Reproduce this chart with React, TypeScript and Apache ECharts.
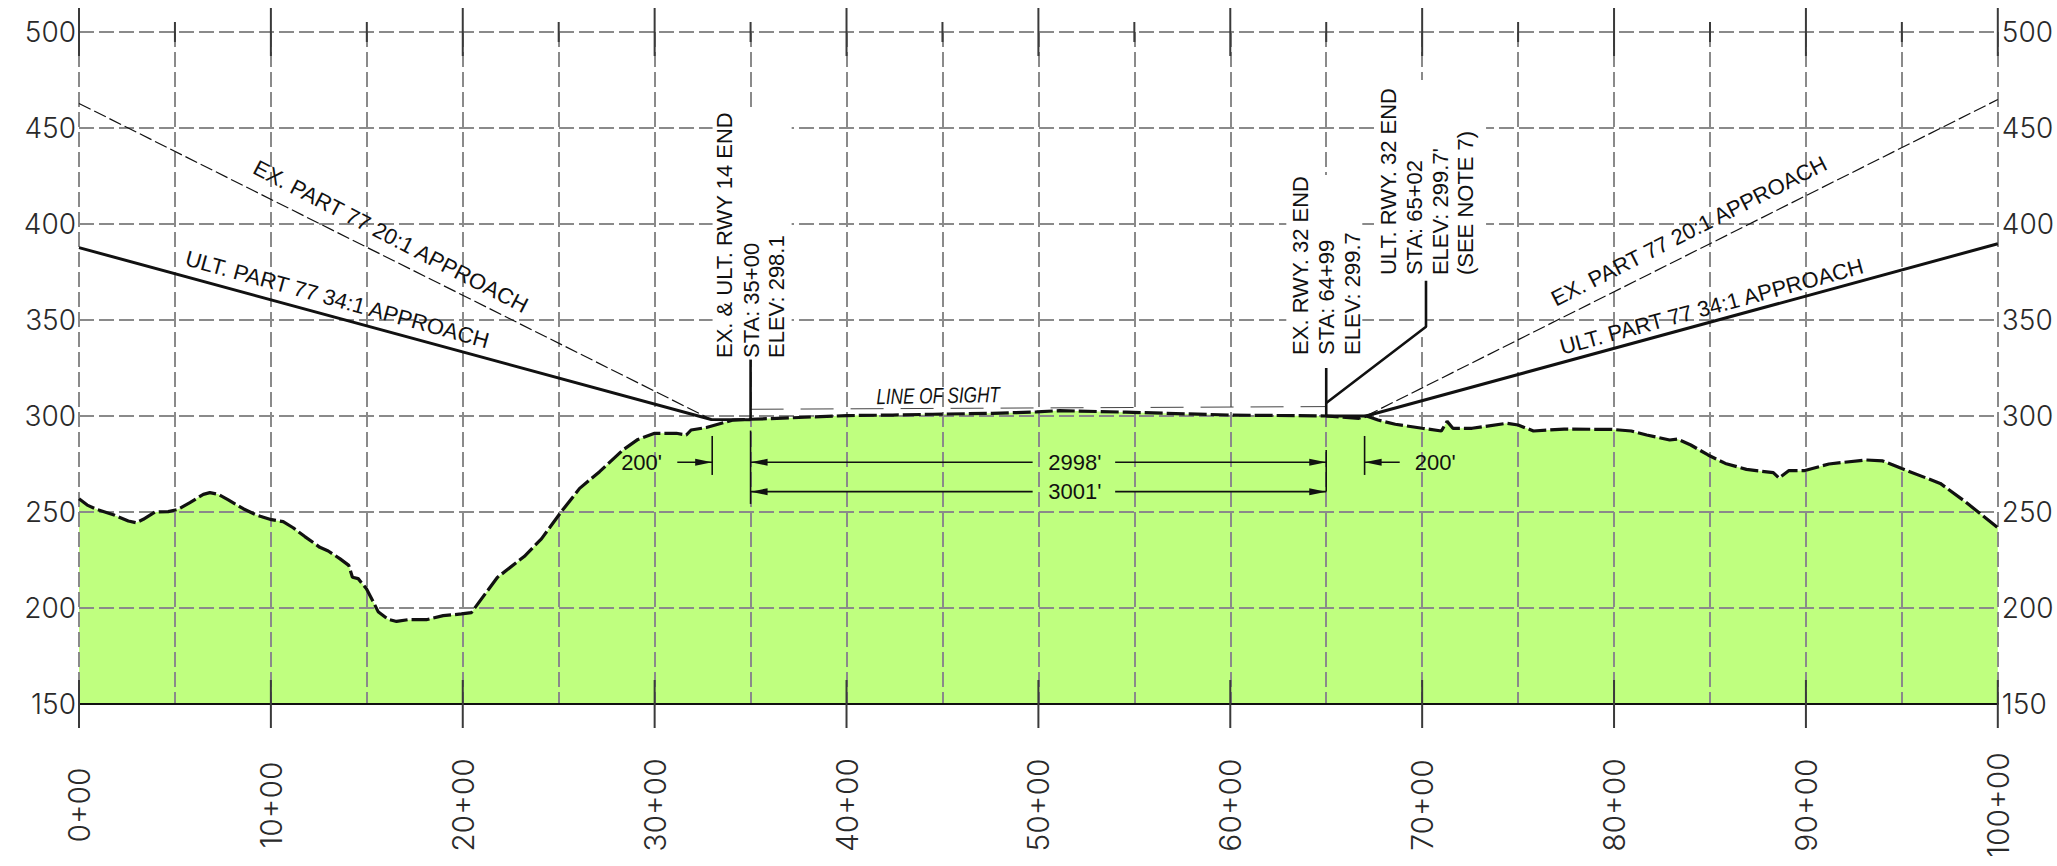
import React, { useEffect, useRef } from "react";
import * as echarts from "echarts";

// ---- values (station in hundreds of feet, elevation in feet) ----
const stationLabels = ["0+00", "10+00", "20+00", "30+00", "40+00", "50+00", "60+00", "70+00", "80+00", "90+00", "100+00"];
const majorStations = [0, 10, 20, 30, 40, 50, 60, 70, 80, 90, 100];
const minorStations = [5, 15, 25, 35, 45, 55, 65, 75, 85, 95];

const terrainStations = [0, 0.43, 0.92, 1.79, 2.57, 2.97, 3.35, 3.96, 4.65, 5.17, 5.78, 6.48, 6.82, 7.26, 7.78, 8.56, 9.25, 10.03, 10.64, 11.16, 11.77, 12.55, 12.99, 13.59, 14.06, 14.25, 14.55, 14.98, 15.33, 15.59, 16.11, 16.55, 17.15, 18.1, 18.98, 19.93, 20.45, 21.8, 23.2, 24.1, 25.14, 26.09, 27.13, 28.35, 29.13, 30, 31.13, 31.65, 31.9, 32.7, 33.65, 34.1, 35, 37.2, 40, 42.4, 44.5, 45, 47.6, 49.9, 51.1, 54.55, 60, 65, 66.7, 67.1, 67.7, 68.6, 70, 71, 71.3, 71.6, 72.6, 74.4, 75, 75.8, 77.4, 79.9, 80.9, 81.7, 82.9, 83.3, 84, 84.9, 85.8, 86.9, 88.3, 88.6, 89.1, 89.9, 91.2, 93.1, 94, 95, 97, 98.3, 100];
const terrainElevations = [256.9, 253.6, 251.4, 248.6, 245.3, 244.4, 246.2, 250, 250.2, 251.4, 254.9, 259.2, 260.1, 259.2, 256.3, 251.7, 248.4, 246, 245, 241.8, 237.2, 231.6, 229.7, 225.7, 222.2, 216, 215.3, 210, 203.3, 198.1, 194.1, 193, 193.9, 193.9, 196, 196.9, 197.6, 215.9, 226.8, 236, 250.2, 262.3, 271, 282.3, 287.8, 291, 291, 290.1, 292.7, 294, 296.7, 297.9, 298.3, 299.1, 300.2, 300.5, 300.9, 301, 301.4, 302.1, 302.8, 302, 300.5, 300, 298.8, 300, 297.9, 295.7, 293.6, 292.2, 297.2, 293.6, 293.6, 296.2, 295.3, 292.2, 293.2, 293, 292.2, 290.1, 287.5, 288, 284.9, 279.7, 275.3, 272.2, 270.5, 267.7, 271.5, 271.5, 275, 277.1, 276.6, 272.6, 264.9, 255.4, 241.8];

const ultLeft = [[0, 387.7], [32.95, 298.2], [35, 298.1]];
const exLeft = [[0, 462.8], [32.95, 298.2]];
const ultRight = [[65, 300], [67.07, 300], [100, 389.7]];
const exRight = [[67.07, 300], [100, 464.8]];
const lineOfSight = [[35, 303.5], [65, 304.9]];
const leader35 = [[35, 298.1], [35, 329.4]];
const leader65 = [[65, 300], [65, 325]];
const leaderUlt = [[65, 306.8], [70.2, 346.5], [70.2, 370.5]];

// station, elevation of label start, text, angle in degrees, horizontal stretch
const noteLabels = [
  { st: 34.05, el: 330.2, text: "EX. & ULT. RWY 14 END", deg: 90 },
  { st: 35.43, el: 330.2, text: "STA: 35+00", deg: 90 },
  { st: 36.77, el: 330.2, text: "ELEV: 298.1", deg: 90 },
  { st: 64.04, el: 331.8, text: "EX. RWY. 32 END", deg: 90 },
  { st: 65.4, el: 331.8, text: "STA: 64+99", deg: 90 },
  { st: 66.75, el: 331.8, text: "ELEV: 299.7", deg: 90 },
  { st: 68.66, el: 373.4, text: "ULT. RWY. 32 END", deg: 90 },
  { st: 69.98, el: 373.4, text: "STA: 65+02", deg: 90 },
  { st: 71.35, el: 373.4, text: "ELEV: 299.7'", deg: 90 },
  { st: 72.65, el: 373.4, text: "(SEE NOTE 7)", deg: 90 },
  { st: 8.99, el: 426.6, text: "EX. PART 77 20:1 APPROACH", deg: -27.4 },
  { st: 5.47, el: 378.6, text: "ULT. PART 77 34:1 APPROACH", deg: -15.4 },
  { st: 76.98, el: 356.8, text: "EX. PART 77 20:1 APPROACH", deg: 26.9 },
  { st: 77.3, el: 331.8, text: "ULT. PART 77 34:1 APPROACH", deg: 15.1 },
  { st: 41.56, el: 306.25, text: "LINE OF SIGHT", deg: 1, italic: true, stretch: 0.78 },
];

const dimLabels = [
  { st: 51.9, el: 275.9, text: "2998'" },
  { st: 51.9, el: 260.6, text: "3001'" },
  { st: 29.32, el: 275.9, text: "200'" },
  { st: 70.68, el: 275.9, text: "200'" },
];
// from station, to (arrow) station, elevation
const dimArrows = [
  [49.7, 35, 275.9], [54, 65, 275.9], [49.7, 35, 260.6], [54, 65, 260.6], [31.18, 33, 275.9], [68.83, 67, 275.9],
];
// station, low elevation, high elevation
const dimTicks = [
  [33, 269.3, 289.6], [35, 254.2, 292.4], [65, 260.6, 282.3], [67, 269.3, 289.6],
];
// where the grid is blanked behind the notes: station from/to, elevation from/to
const gridBreaks = [
  [33.02, 37.14, 329.2, 459.4],
  [62.92, 66.88, 325.5, 425.5],
  [67.66, 73.33, 370.8, 475],
  [69.85, 70.26, 341.1, 370.8],
];

const GRID = "#8a8a8a";
const INK = "#111111";
const FILL = "#BFFF7F";
const TEXT_FONT = '"Liberation Sans", Arial, sans-serif';
const AXIS_FONT = 'Inter, "DejaVu Sans", sans-serif';
const NOTE_SIZE = 22;

const plainLine = (data: number[][], width: number, dash?: any, color = INK) => ({
  type: "line",
  data,
  symbol: "none",
  z: 5,
  silent: true,
  clip: false,
  lineStyle: { color, width, type: dash || "solid", cap: "butt" },
});

const textItem = (api: any, a: any, size: number) => {
  const p = api.coord([a.st, a.el]);
  return {
    type: "text",
    x: p[0],
    y: p[1],
    rotation: ((a.deg || 0) * Math.PI) / 180,
    scaleX: a.stretch || 1,
    style: {
      text: a.text,
      x: 0,
      y: -0.3465 * size,
      fill: INK,
      fontSize: size,
      fontFamily: TEXT_FONT,
      fontStyle: a.italic ? "italic" : "normal",
      align: "left",
      verticalAlign: "middle",
    },
  };
};

function buildOption(): any {
  return {
    animation: false,
    backgroundColor: "#ffffff",
    grid: { left: 79, top: 32, width: 1920, height: 672, containLabel: false },
    xAxis: {
      type: "value",
      min: 0,
      max: 100,
      interval: 5,
      z: 3,
      axisLine: { show: true, onZero: false, lineStyle: { color: "#111", width: 2 } },
      axisTick: { show: false },
      splitLine: { show: true, lineStyle: { color: GRID, width: 2, type: [15, 5] } },
      axisLabel: {
        show: true,
        rotate: 90,
        margin: 101,
        align: "center",
        verticalAlign: "middle",
        color: "#2a2a2a",
        fontFamily: AXIS_FONT,
        fontWeight: 300,
        fontSize: 30,
        formatter: (v: number) => (v % 10 === 0 ? stationLabels[v / 10] : ""),
      },
    },
    yAxis: [
      {
        type: "value",
        min: 150,
        max: 500,
        interval: 50,
        z: 3,
        axisLine: { show: false },
        axisTick: { show: false },
        splitLine: { show: true, lineStyle: { color: GRID, width: 2, type: [15, 5] } },
        axisLabel: { margin: 3, color: "#2a2a2a", fontFamily: AXIS_FONT, fontWeight: 300, fontSize: 28 },
      },
      {
        type: "value",
        position: "right",
        min: 150,
        max: 500,
        interval: 50,
        axisLine: { show: false },
        axisTick: { show: false },
        splitLine: { show: false },
        axisLabel: { margin: 4, color: "#2a2a2a", fontFamily: AXIS_FONT, fontWeight: 300, fontSize: 28 },
      },
    ],
    series: [
      {
        type: "line",
        data: terrainStations.map((s, i) => [s, terrainElevations[i]]),
        symbol: "none",
        z: 1,
        silent: true,
        areaStyle: { color: FILL, opacity: 1, origin: "start" },
        lineStyle: { opacity: 0 },
      },
      {
        type: "custom",
        z: 4,
        silent: true,
        data: gridBreaks,
        renderItem: (_: any, api: any) => {
          const a = api.coord([api.value(0), api.value(3)]);
          const b = api.coord([api.value(1), api.value(2)]);
          return { type: "rect", shape: { x: a[0], y: a[1], width: b[0] - a[0], height: b[1] - a[1] }, style: { fill: "#ffffff" } };
        },
      },
      {
        type: "line",
        data: terrainStations.map((s, i) => [s, terrainElevations[i]]),
        symbol: "none",
        z: 5,
        silent: true,
        lineStyle: { color: INK, width: 3.2, type: [18, 4] },
      },
      plainLine(ultLeft, 3),
      plainLine(ultRight, 3),
      plainLine(exLeft, 1.2, [13, 4]),
      plainLine(exRight, 1.2, [13, 4]),
      plainLine(lineOfSight, 1, [33, 17], "#444444"),
      plainLine(leader35, 2.6),
      plainLine(leader65, 2.6),
      plainLine(leaderUlt, 2.6),
      {
        type: "custom",
        z: 5,
        silent: true,
        clip: false,
        data: majorStations.map((s) => [s]),
        renderItem: (_: any, api: any) => {
          const top = api.coord([api.value(0), 500]);
          const bot = api.coord([api.value(0), 150]);
          const s = { stroke: "#3a3a3a", lineWidth: 2 };
          return {
            type: "group",
            children: [
              { type: "line", shape: { x1: top[0], y1: top[1] - 24, x2: top[0], y2: top[1] + 24 }, style: s },
              { type: "line", shape: { x1: bot[0], y1: bot[1] - 24, x2: bot[0], y2: bot[1] + 24 }, style: s },
            ],
          };
        },
      },
      {
        type: "custom",
        z: 5,
        silent: true,
        clip: false,
        data: minorStations.map((s) => [s]),
        renderItem: (_: any, api: any) => {
          const top = api.coord([api.value(0), 500]);
          return { type: "line", shape: { x1: top[0], y1: top[1] - 10, x2: top[0], y2: top[1] + 10 }, style: { stroke: "#3a3a3a", lineWidth: 2 } };
        },
      },
      {
        type: "custom",
        z: 5,
        silent: true,
        data: dimTicks,
        renderItem: (_: any, api: any) => {
          const a = api.coord([api.value(0), api.value(1)]);
          const b = api.coord([api.value(0), api.value(2)]);
          return { type: "line", shape: { x1: a[0], y1: a[1], x2: b[0], y2: b[1] }, style: { stroke: INK, lineWidth: 1.6 } };
        },
      },
      {
        type: "custom",
        z: 5,
        silent: true,
        data: dimArrows,
        renderItem: (_: any, api: any) => {
          const a = api.coord([api.value(0), api.value(2)]);
          const b = api.coord([api.value(1), api.value(2)]);
          const dir = b[0] > a[0] ? -1 : 1;
          return {
            type: "group",
            children: [
              { type: "line", shape: { x1: a[0], y1: a[1], x2: b[0], y2: b[1] }, style: { stroke: INK, lineWidth: 1.6 } },
              {
                type: "polygon",
                shape: { points: [[b[0], b[1]], [b[0] + dir * 17, b[1] - 3.5], [b[0] + dir * 17, b[1] + 3.5]] },
                style: { fill: INK },
              },
            ],
          };
        },
      },
      {
        type: "custom",
        z: 6,
        silent: true,
        clip: false,
        data: noteLabels.map((a) => [a.st, a.el]),
        renderItem: (p: any, api: any) => textItem(api, noteLabels[p.dataIndex], NOTE_SIZE),
      },
      {
        type: "custom",
        z: 6,
        silent: true,
        clip: false,
        data: dimLabels.map((a) => [a.st, a.el]),
        renderItem: (p: any, api: any) => {
          const a = dimLabels[p.dataIndex];
          const c = api.coord([a.st, a.el]);
          return {
            type: "text",
            x: c[0],
            y: c[1],
            style: { text: a.text, fill: INK, fontSize: NOTE_SIZE, fontFamily: TEXT_FONT, align: "center", verticalAlign: "middle" },
          };
        },
      },
    ],
  };
}

export default function App() {
  const ref = useRef<HTMLDivElement>(null);
  useEffect(() => {
    document.documentElement.style.overflow = "hidden";
    document.body.style.margin = "0";
    document.body.style.overflow = "hidden";
    document.body.style.background = "#ffffff";
    const chart = echarts.init(ref.current!, undefined, { renderer: "svg" });
    chart.setOption(buildOption());
    return () => chart.dispose();
  }, []);
  return <div ref={ref} style={{ width: 2057, height: 866, overflow: "hidden" }} />;
}
